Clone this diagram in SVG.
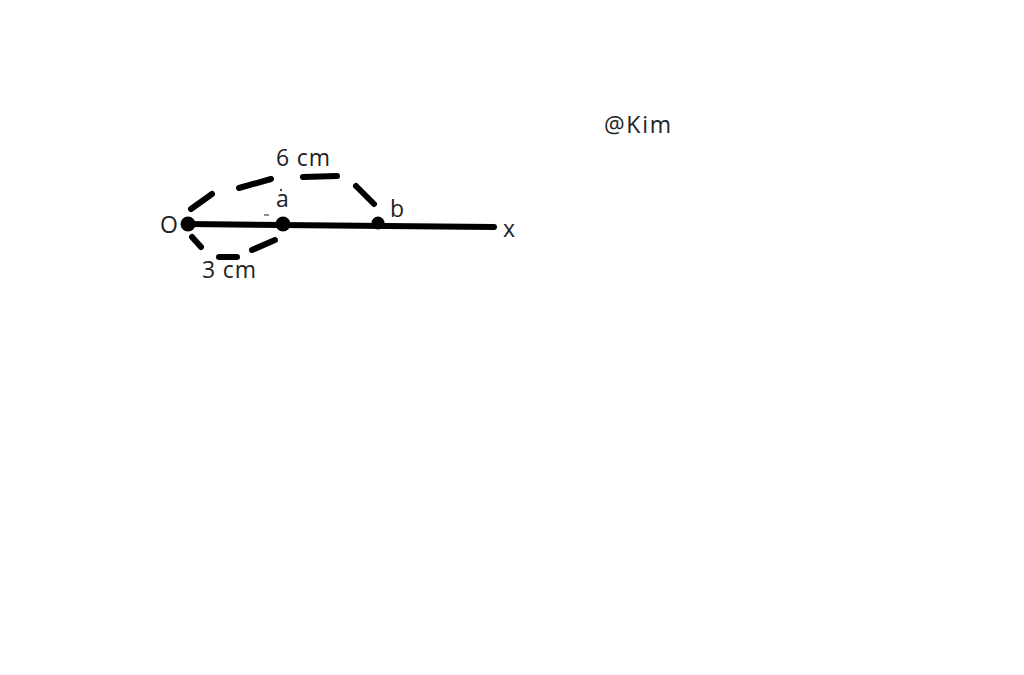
<svg xmlns="http://www.w3.org/2000/svg" width="1024" height="675" viewBox="0 0 1024 675">
<style>
.t{font-family:"Open Sans","Liberation Sans",sans-serif;font-size:23px;fill:#222}
.d{stroke:#000;stroke-width:6;stroke-linecap:round;fill:none}
</style>
<rect width="1024" height="675" fill="#fff"/>
<g id="connectors">
<line x1="187" y1="224" x2="494" y2="227" stroke="#000" stroke-width="6" stroke-linecap="round"/>
<g id="arc-6cm">
<line class="d" x1="191" y1="209" x2="212" y2="194"/>
<line class="d" x1="239" y1="188" x2="271" y2="179"/>
<line class="d" x1="303" y1="177" x2="337" y2="176"/>
<line class="d" x1="356" y1="186" x2="374" y2="204"/>
</g>
<g id="arc-3cm">
<line class="d" x1="192" y1="237" x2="201" y2="247"/>
<line class="d" x1="219" y1="257" x2="237" y2="257"/>
<line class="d" x1="252" y1="250" x2="275" y2="240"/>
</g>
</g>
<g id="node-O"><circle cx="188" cy="224" r="7.5"/><text class="t" x="160" y="233">O</text></g>
<g id="node-a"><circle cx="283" cy="224" r="7.5"/><text class="t" x="276" y="207">a</text><circle cx="281" cy="190" r="1.2" fill="#444"/><line x1="264" y1="215" x2="269" y2="215" stroke="#444" stroke-width="1.2"/></g>
<g id="node-b"><circle cx="378" cy="223" r="6.5"/><text class="t" x="390" y="217">b</text></g>
<g id="node-x"><text class="t" x="503" y="237">x</text></g>
<text class="t" x="276" y="166" textLength="54">6 cm</text>
<text class="t" x="202" y="278" textLength="54">3 cm</text>
<text class="t" x="604" y="133" textLength="67">@Kim</text>
</svg>
